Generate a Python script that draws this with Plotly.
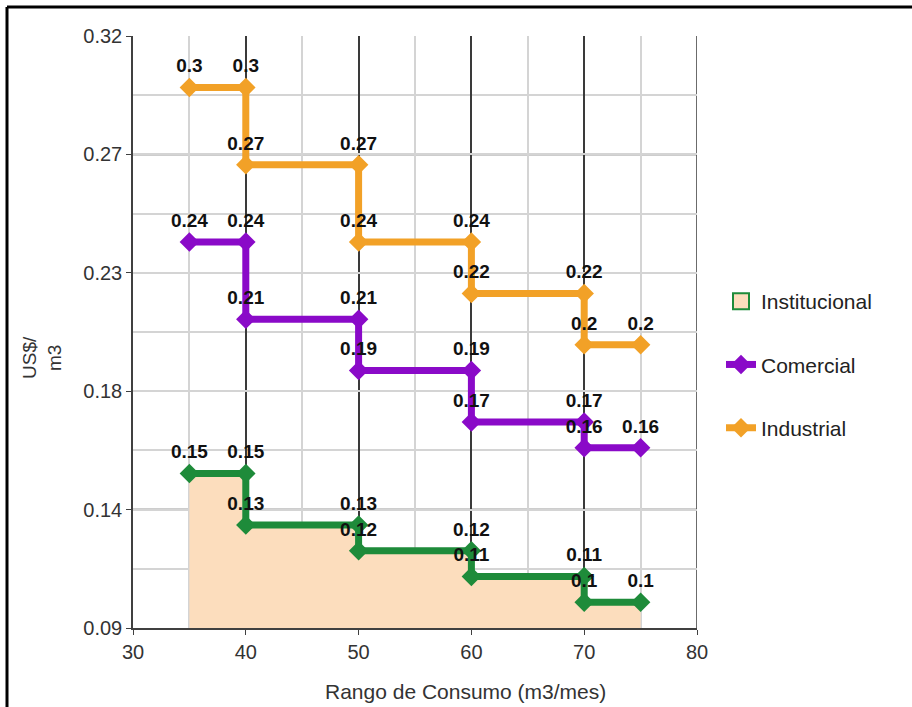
import plotly.graph_objects as go

# ---- data ----
tier_start = [35, 40, 50, 60, 70]
tier_end = [40, 50, 60, 70, 75]
institucional = [0.15, 0.13, 0.12, 0.11, 0.10]
comercial = [0.24, 0.21, 0.19, 0.17, 0.16]
industrial = [0.30, 0.27, 0.24, 0.22, 0.20]

y_tickvals = [0.09, 0.136, 0.182, 0.228, 0.274, 0.32]
y_ticktext = ["0.09", "0.14", "0.18", "0.23", "0.27", "0.32"]
y_minorvals = [0.113, 0.159, 0.205, 0.251, 0.297]
y_darkgrid = [0.136, 0.182, 0.274]
x_tickvals = [30, 40, 50, 60, 70, 80]
x_minorvals = [35, 45, 55, 65, 75]

COL_INST = "#1E8B3A"
COL_FILL = "#FCDDBD"
COL_COM = "#8A0AC8"
COL_IND = "#F2A127"
FONT = "Liberation Sans, Arial, sans-serif"

# plot area in window pixels
PL, PR, PT, PB = 133, 697, 36, 628
PW, PH = PR - PL, PB - PT
W, H = 912, 707


def px(xp):
    return (xp - PL) / PW


def py(yp):
    return (PB - yp) / PH


def steps(vals):
    xs, ys = [], []
    for s, e, v in zip(tier_start, tier_end, vals):
        xs += [s, e]
        ys += [v, v]
    return xs, ys


fig = go.Figure()


def add_series(name, vals, color, fill=False, showlegend=True, rank=1):
    xs, ys = steps(vals)
    fig.add_trace(go.Scatter(
        x=xs, y=ys, name=name, mode="lines+markers+text",
        line=dict(color=color, width=7),
        marker=dict(symbol="diamond", size=15, color=color),
        text=[f"{v:g}" for v in ys], textposition="top center",
        textfont=dict(family=FONT, size=19, color="#111111", weight="bold"),
        fill="tozeroy" if fill else None, fillcolor=COL_FILL,
        showlegend=showlegend, legendgroup=name, legendrank=rank,
        cliponaxis=False,
    ))


add_series("Institucional", institucional, COL_INST, fill=True, showlegend=False)
add_series("Comercial", comercial, COL_COM, rank=2)
add_series("Industrial", industrial, COL_IND, rank=3)

# legend swatch for the filled series
fig.add_trace(go.Scatter(
    x=[None], y=[None], name="Institucional", mode="markers",
    marker=dict(symbol="square", size=16, color=COL_FILL,
                line=dict(color=COL_INST, width=2)),
    legendgroup="inst_legend", legendrank=1,
))

shapes = []
for yv in y_darkgrid:
    shapes.append(dict(type="line", xref="paper", yref="y", x0=0, x1=1,
                       y0=yv, y1=yv, layer="below",
                       line=dict(color="#3a3a3a", width=1.5)))
shapes.append(dict(type="line", xref="x", yref="paper", x0=80, x1=80,
                   y0=0, y1=1, layer="below",
                   line=dict(color="#3a3a3a", width=1.5)))
# outer frame (top and left edges)
shapes.append(dict(type="line", xref="paper", yref="paper",
                   x0=px(7), x1=px(1000), y0=py(7), y1=py(7),
                   line=dict(color="black", width=3)))
shapes.append(dict(type="line", xref="paper", yref="paper",
                   x0=px(7), x1=px(7), y0=py(7), y1=py(800),
                   line=dict(color="black", width=3)))

fig.update_layout(
    width=W, height=H,
    margin=dict(l=PL, r=W - PR, t=PT, b=H - PB),
    paper_bgcolor="white", plot_bgcolor="white",
    font=dict(family=FONT, color="#333333"),
    shapes=shapes,
    legend=dict(x=px(721), y=py(281), xanchor="left", yanchor="top",
                font=dict(family=FONT, size=21, color="#222222"),
                tracegroupgap=33, traceorder="grouped",
                bgcolor="rgba(0,0,0,0)"),
    annotations=[
        dict(text="US$/<br>m3", textangle=-90, xref="paper", yref="paper",
             x=px(42), y=py(358), xanchor="center", yanchor="middle",
             showarrow=False, font=dict(family=FONT, size=19, color="#333333")),
        dict(text="Rango de Consumo (m3/mes)", xref="paper", yref="paper",
             x=px(465), y=py(691), xanchor="center", yanchor="middle",
             showarrow=False, font=dict(family=FONT, size=21, color="#333333")),
    ],
)

fig.update_xaxes(
    range=[30, 80], tickmode="array", tickvals=x_tickvals,
    showgrid=True, gridcolor="#3a3a3a", gridwidth=1.5,
    showline=True, linecolor="#404040", linewidth=1.5,
    ticks="outside", ticklen=5, tickcolor="#404040",
    tickfont=dict(family=FONT, size=20, color="#333333"),
    minor=dict(tickvals=x_minorvals, showgrid=True, gridcolor="#d4d4d4",
               gridwidth=1.5, ticks=""),
    zeroline=False,
)
fig.update_yaxes(
    range=[0.09, 0.32], tickmode="array", tickvals=y_tickvals,
    ticktext=y_ticktext,
    showgrid=True, gridcolor="#d4d4d4", gridwidth=1.5,
    showline=True, linecolor="#404040", linewidth=1.5,
    ticks="outside", ticklen=5, tickcolor="#404040",
    tickfont=dict(family=FONT, size=20, color="#333333"),
    minor=dict(tickvals=y_minorvals, showgrid=True, gridcolor="#d4d4d4",
               gridwidth=1.5, ticks=""),
    zeroline=False,
)

fig.write_html(
    "out.html",
    config={"displayModeBar": False},
    post_script="document.body.style.margin='0';"
                "document.body.style.overflow='hidden';",
)
